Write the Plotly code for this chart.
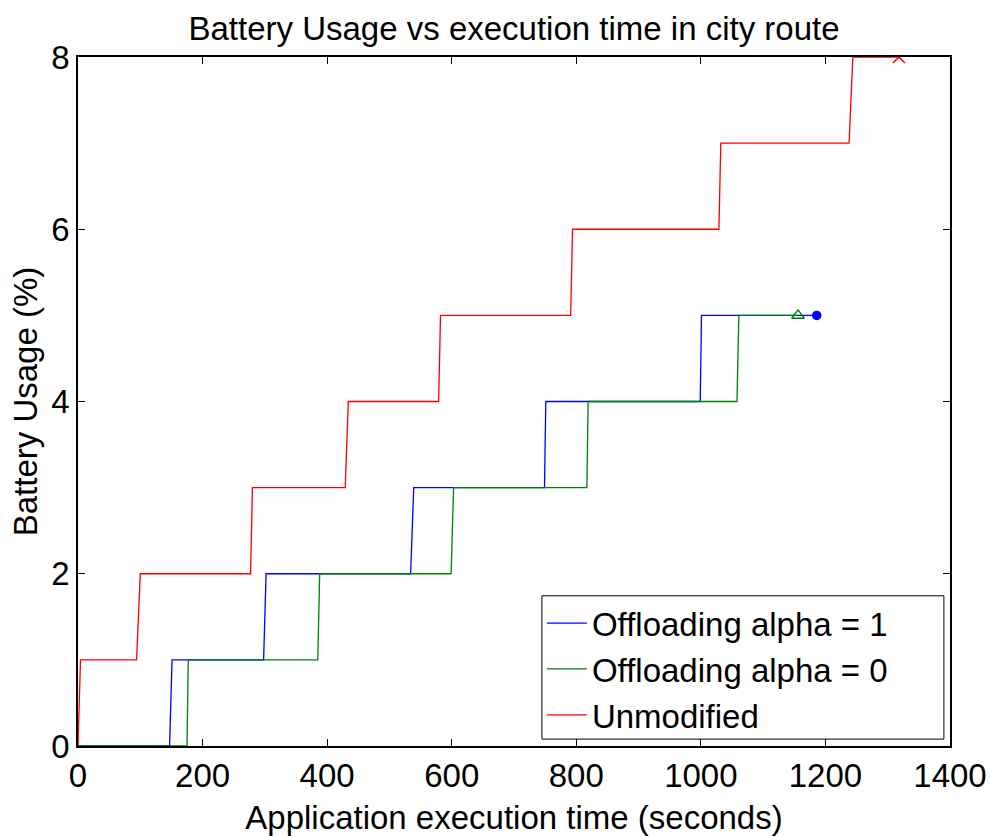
import plotly.graph_objects as go

# Data
blue_t = [0, 147, 151, 298, 302, 534, 539, 749, 751, 999, 1001, 1186]
blue_y = [0, 0, 1, 1, 2, 2, 3, 3, 4, 4, 5, 5]
green_t = [0, 175, 177, 385, 388, 599, 603, 817, 819, 1058, 1061, 1156]
green_y = [0, 0, 1, 1, 2, 2, 3, 3, 4, 4, 5, 5]
red_t = [0, 4, 94, 100, 277, 280, 429, 434, 579, 582, 791, 794, 1029, 1032, 1238, 1244, 1318]
red_y = [0, 1, 1, 2, 2, 3, 3, 4, 4, 5, 5, 6, 6, 7, 7, 8, 8]

names = ["Offloading alpha = 1", "Offloading alpha = 0", "Unmodified"]
colors = ["#0000ff", "#008000", "#ff0000"]
x_ticks = [0, 200, 400, 600, 800, 1000, 1200, 1400]
y_ticks = [0, 2, 4, 6, 8]

FONT = "Liberation Sans, Arial, Helvetica, sans-serif"

fig = go.Figure()
series = [(blue_t, blue_y, "circle", 8), (green_t, green_y, "triangle-up-open", 11), (red_t, red_y, "x-thin-open", 12)]
for (t, y, sym, sz), name, col in zip(series, names, colors):
    fig.add_trace(go.Scatter(
        x=t, y=y, name=name, mode="lines", line=dict(color=col, width=1.3),
        showlegend=True))
    fig.add_trace(go.Scatter(
        x=[t[-1]], y=[y[-1]], mode="markers", showlegend=False,
        marker=dict(symbol=sym, size=sz, color=col, line=dict(color=col, width=1.5))))

axis_common = dict(
    showgrid=False, zeroline=False, showline=True, linecolor="black", linewidth=1.5,
    mirror="ticks", ticks="inside", ticklen=7, tickcolor="black", tickwidth=1,
    tickfont=dict(family=FONT, size=33, color="black"), automargin=False,
)
fig.update_xaxes(range=[0, 1400], tickvals=x_ticks,
                 title=dict(text="Application execution time (seconds)",
                            font=dict(family=FONT, size=33, color="black"), standoff=13),
                 **axis_common)
fig.update_yaxes(range=[0, 8], tickvals=y_ticks,
                 title=dict(text="Battery Usage (%)",
                            font=dict(family=FONT, size=33, color="black"), standoff=4),
                 **axis_common)

# legend frame (wider than the entries, as in the reference)
LEG_X0, LEG_X1, LEG_Y0, LEG_Y1 = 0.532, 0.993, 0.010, 0.218
fig.add_shape(type="rect", xref="paper", yref="paper",
              x0=LEG_X0, x1=LEG_X1, y0=LEG_Y0, y1=LEG_Y1,
              line=dict(color="black", width=1), fillcolor="white", layer="below")

fig.update_layout(
    width=990, height=837,
    margin=dict(l=78, r=40, t=57, b=91, autoexpand=False),
    plot_bgcolor="white", paper_bgcolor="white",
    title=dict(text="Battery Usage vs execution time in city route",
               x=(78 + 950) / 2 / 990, xanchor="center", y=1 - 28 / 837, yanchor="middle",
               font=dict(family=FONT, size=33, color="black")),
    legend=dict(x=LEG_X0, xanchor="left", y=LEG_Y1 + 0.001, yanchor="top",
                bgcolor="rgba(0,0,0,0)", borderwidth=0,
                font=dict(family=FONT, size=33, color="black"),
                itemwidth=40, tracegroupgap=3),
    showlegend=True,
)

fig.write_html("out.html")
